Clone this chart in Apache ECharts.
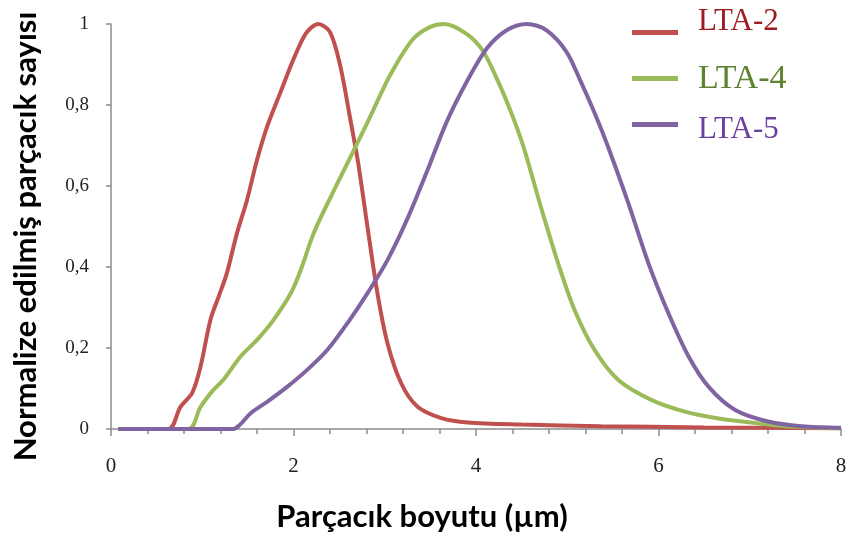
<!DOCTYPE html>
<html>
<head>
<meta charset="utf-8">
<script src="https://cdn.jsdelivr.net/npm/echarts@6/dist/echarts.min.js"></script>
<style>html,body{margin:0;padding:0;background:#fff;}#c{width:851px;height:539px;}</style>
</head>
<body>
<div id="c"></div>
<script>
const seriesNames = ['LTA-2', 'LTA-4', 'LTA-5'];
const xTicks = [0, 2, 4, 6, 8];
const yTicks = [0, 0.2, 0.4, 0.6, 0.8, 1];

const lta2X = [0.08, 0.63, 0.76, 0.89, 0.98, 1.09, 1.18, 1.27, 1.38, 1.49, 1.60, 1.71, 1.86, 2.0, 2.14, 2.27, 2.40, 2.51, 2.62, 2.71, 2.81, 2.92, 3.03, 3.18, 3.36, 3.62, 3.91, 4.5, 5.37, 6.5, 8.0];
const lta2Y = [0, 0, 0.054, 0.089, 0.153, 0.27, 0.327, 0.385, 0.483, 0.565, 0.664, 0.746, 0.833, 0.913, 0.978, 1.0, 0.98, 0.899, 0.768, 0.655, 0.5, 0.335, 0.212, 0.113, 0.055, 0.027, 0.016, 0.011, 0.007, 0.004, 0.002];

const lta4X = [0.08, 0.85, 0.98, 1.12, 1.23, 1.42, 1.60, 1.78, 1.97, 2.08, 2.22, 2.41, 2.59, 2.80, 3.06, 3.31, 3.50, 3.65, 3.90, 4.08, 4.26, 4.41, 4.53, 4.71, 4.90, 5.08, 5.30, 5.56, 5.92, 6.29, 6.66, 7.02, 7.39, 8.0];
const lta4Y = [0, 0, 0.054, 0.096, 0.121, 0.179, 0.22, 0.269, 0.335, 0.393, 0.483, 0.574, 0.656, 0.752, 0.874, 0.963, 0.993, 1.0, 0.975, 0.932, 0.849, 0.767, 0.69, 0.549, 0.409, 0.294, 0.195, 0.121, 0.072, 0.043, 0.026, 0.016, 0.007, 0.002];

const lta5X = [0.08, 1.34, 1.42, 1.53, 1.71, 1.93, 2.15, 2.37, 2.59, 2.81, 3.03, 3.25, 3.47, 3.68, 3.90, 4.12, 4.34, 4.56, 4.77, 4.99, 5.14, 5.30, 5.45, 5.67, 5.89, 6.11, 6.33, 6.55, 6.84, 7.21, 7.57, 8.0];
const lta5Y = [0, 0, 0.012, 0.039, 0.067, 0.104, 0.146, 0.195, 0.261, 0.335, 0.417, 0.52, 0.64, 0.759, 0.858, 0.94, 0.985, 1.0, 0.985, 0.932, 0.862, 0.78, 0.695, 0.557, 0.409, 0.285, 0.179, 0.104, 0.047, 0.018, 0.007, 0.003];

const lineColors = ['#c0504d', '#9bbb59', '#8064a2'];
const legendTextColors = ['#9e1b20', '#5f8230', '#6b3fa0'];

const pairs = (xs, ys) => xs.map((x, i) => [x, ys[i]]);
const seriesData = [pairs(lta2X, lta2Y), pairs(lta4X, lta4Y), pairs(lta5X, lta5Y)];

const chart = echarts.init(document.getElementById('c'), null, {renderer: 'canvas'});
const axisGray = '#8c8c8c';
const serif = '"Liberation Serif", "Times New Roman", serif';
const sans = 'Lato, "Noto Sans", sans-serif';

// legend layout (not data)
const legendLayout = [
  {lineY: 30, textY: 21.5, size: 31},
  {lineY: 76, textY: 79, size: 34},
  {lineY: 122, textY: 130, size: 31}
];
const legendGraphics = [];
seriesNames.forEach((n, i) => {
  legendGraphics.push({
    type: 'rect', left: 632, top: legendLayout[i].lineY,
    shape: {width: 46, height: 5}, style: {fill: lineColors[i]}, silent: true
  });
  legendGraphics.push({
    type: 'text', x: 698, y: legendLayout[i].textY,
    style: {text: n, fill: legendTextColors[i], font: legendLayout[i].size + 'px ' + serif,
      textAlign: 'left', textVerticalAlign: 'middle', verticalAlign: 'middle'}, silent: true
  });
});

chart.setOption({
  animation: false,
  backgroundColor: '#fff',
  grid: {left: 111, right: 10, top: 24, bottom: 110, containLabel: false, outerBoundsMode: 'none'},
  graphic: legendGraphics,
  xAxis: {
    type: 'value', min: xTicks[0], max: xTicks[xTicks.length - 1], interval: 2,
    name: 'Parçacık boyutu (µm)', nameLocation: 'middle', nameGap: 72,
    nameTextStyle: {fontFamily: sans, fontWeight: 'bold', fontSize: 31, color: '#000', padding: [0, 108, 0, 0]},
    axisLine: {show: true, lineStyle: {color: axisGray, width: 1.5}},
    axisTick: {show: true, length: 7, lineStyle: {color: axisGray, width: 1.5}},
    minorTick: {show: true, splitNumber: 5, length: 5, lineStyle: {color: axisGray, width: 1.5}},
    splitLine: {show: false},
    axisLabel: {margin: 27, fontFamily: serif, fontSize: 21, color: '#222'}
  },
  yAxis: {
    type: 'value', min: yTicks[0], max: yTicks[yTicks.length - 1], interval: 0.2,
    name: 'Normalize edilmiş parçacık sayısı', nameLocation: 'middle', nameGap: 70, nameRotate: 90,
    nameTextStyle: {fontFamily: sans, fontWeight: 'bold', fontSize: 31, color: '#000', padding: [0, 20, 0, 0]},
    axisLine: {show: true, lineStyle: {color: axisGray, width: 1.5}},
    axisTick: {show: true, length: 5, lineStyle: {color: axisGray, width: 1.5}},
    splitLine: {show: false},
    axisLabel: {margin: 22, fontFamily: serif, fontSize: 19, color: '#222',
      formatter: v => String(Math.round(v * 10) / 10).replace('.', ',')}
  },
  series: seriesNames.map((n, i) => ({
    name: n, type: 'line', data: seriesData[i], showSymbol: false, symbol: 'none',
    smooth: 0.3, color: lineColors[i],
    lineStyle: {color: lineColors[i], width: 4}
  }))
});
</script>
</body>
</html>
